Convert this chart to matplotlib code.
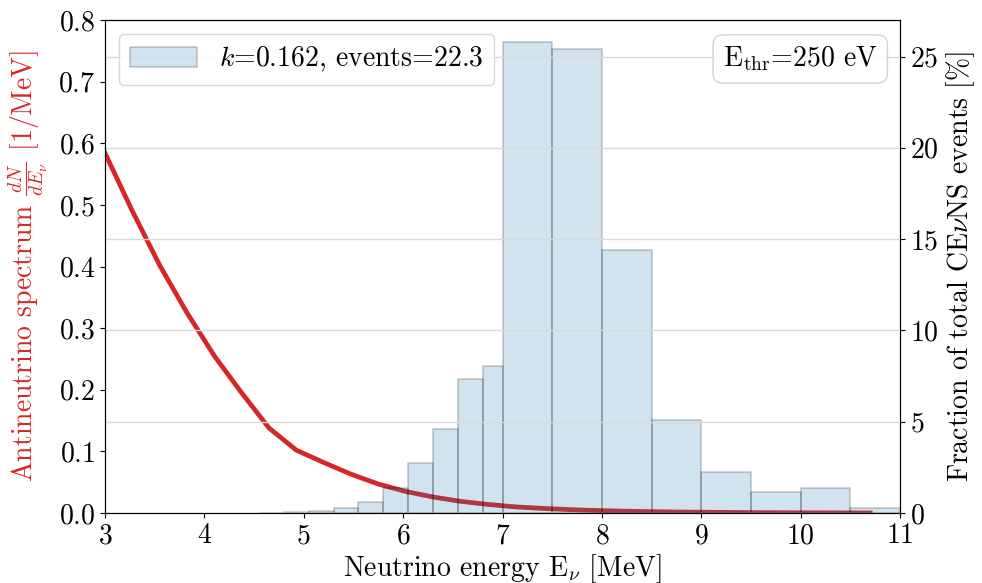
import numpy as np
import matplotlib
matplotlib.use("Agg")
import matplotlib.pyplot as plt

plt.rcParams["font.family"] = "serif"
plt.rcParams["font.serif"] = ["cmr10"]
plt.rcParams["mathtext.fontset"] = "cm"
plt.rcParams["axes.formatter.use_mathtext"] = True
plt.rcParams["font.size"] = 20

# Antineutrino spectrum (left axis)
energy = [3.0, 3.275, 3.55, 3.825, 4.1, 4.375, 4.65, 4.925, 5.2, 5.475,
          5.75, 6.025, 6.3, 6.575, 6.85, 7.125, 7.4, 7.675, 7.95, 8.225,
          8.5, 8.775, 9.05, 9.325, 9.6, 9.875, 10.15, 10.425, 10.7]
spectrum = [0.584, 0.49, 0.402, 0.325, 0.255, 0.195, 0.138, 0.102, 0.082, 0.063,
            0.047, 0.035, 0.026, 0.019, 0.014, 0.010, 0.0075, 0.0055, 0.004, 0.003,
            0.0022, 0.0016, 0.0012, 0.0009, 0.0006, 0.0004, 0.0003, 0.0002, 0.0001]

# Fraction of CEvNS events per energy bin (right axis, %)
bin_edges = [4.55, 4.8, 5.05, 5.3, 5.55, 5.8, 6.05, 6.3, 6.55, 6.8, 7.0,
             7.5, 8.0, 8.5, 9.0, 9.5, 10.0, 10.5, 11.0]
fraction = [0.02, 0.05, 0.13, 0.29, 0.62, 1.35, 2.72, 4.59, 7.35, 8.05,
            25.8, 25.4, 14.4, 5.1, 2.26, 1.17, 1.39, 0.29]

fig, ax = plt.subplots(figsize=(9.82, 5.83), dpi=100)
fig.subplots_adjust(left=105 / 982, right=900 / 982, top=1 - 20 / 583, bottom=1 - 513 / 583)

ax.plot(energy, spectrum, color="#d62728", lw=3.4)
ax.set_xlim(3, 11)
ax.set_ylim(0, 0.8)
ax.set_xlabel(r"Neutrino energy E$_{\nu}$ [MeV]", labelpad=2)
ax.set_ylabel(r"Antineutrino spectrum $\frac{dN}{dE_\nu}$ [1/MeV]", color="#d62728", labelpad=6)

ax2 = ax.twinx()
ax2.hist(bin_edges[:-1], bins=bin_edges, weights=fraction, color="C0",
         edgecolor="k", alpha=0.2, lw=1.2, label=r"$k$=0.162, events=22.3")
ax2.set_ylim(0, 27)
ax2.set_yticks([0, 5, 10, 15, 20, 25])
ax2.set_ylabel(r"Fraction of total CE$\nu$NS events [%]")
ax2.grid(axis="y", color="0.85", lw=1)

ax2.legend(loc="upper left", fontsize=20, handlelength=2.4, fancybox=True)
ax2.text(0.972, 0.95, r"E$_{\rm thr}$=250 eV", transform=ax2.transAxes,
         ha="right", va="top", fontsize=20,
         bbox=dict(boxstyle="round,pad=0.35", fc="white", ec="0.8", alpha=0.85))

fig.savefig("out.png", dpi=100)
